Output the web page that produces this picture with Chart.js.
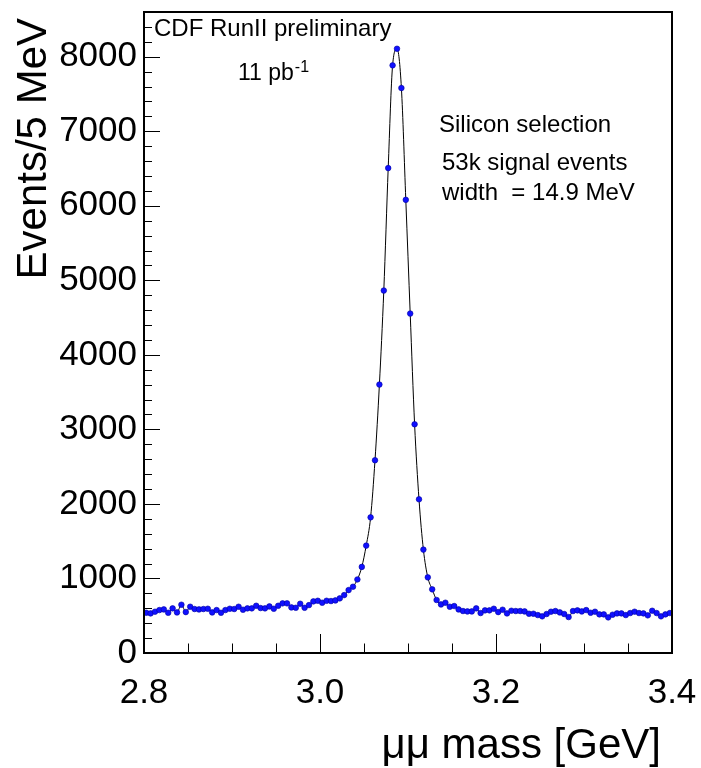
<!DOCTYPE html>
<html>
<head>
<meta charset="utf-8">
<script src="https://cdn.jsdelivr.net/npm/chart.js@4.4.1/dist/chart.umd.min.js"></script>
<style>
  html, body { margin: 0; padding: 0; background: #ffffff; }
  #wrap { width: 701px; height: 768px; }
</style>
</head>
<body>
<div id="wrap"><canvas id="c" width="701" height="768"></canvas></div>
<script>
// ---- data ----
const binStart = 2.8;          // GeV
const binWidth = 0.005;        // 5 MeV bins
const massBins = Array.from({ length: 120 }, (_, i) => +(binStart + binWidth * (i + 0.5)).toFixed(4));
const eventsPerBin = [
  540, 531, 554, 576, 585, 540, 599, 545, 648, 549,
  621, 590, 585, 590, 594, 545, 576, 540, 576, 594,
  590, 621, 581, 599, 599, 634, 603, 599, 625, 594,
  634, 666, 666, 612, 607, 661, 607, 643, 692, 701,
  675, 701, 697, 706, 733, 777, 844, 889, 987, 1155,
  1441, 1820, 2586, 3602, 4863, 6506, 7884, 8107, 7580, 6080,
  4554, 3069, 2062, 1387, 1015, 854, 711, 652, 675, 621,
  630, 585, 563, 558, 558, 599, 536, 572, 572, 594,
  549, 581, 531, 567, 563, 563, 558, 527, 527, 509,
  492, 523, 554, 563, 545, 523, 482, 563, 572, 558,
  576, 540, 554, 518, 518, 478, 514, 531, 531, 509,
  536, 554, 536, 531, 505, 567, 536, 492, 518, 536
];
const xTickValues = [2.8, 3.0, 3.2, 3.4];
const yTickValues = [0, 1000, 2000, 3000, 4000, 5000, 6000, 7000, 8000];
const xRange = [2.8, 3.4];
const yRange = [0, 8600];
const xTitle = 'μμ mass [GeV]';
const yTitle = 'Events/5 MeV';
const noteLines = ['Silicon selection', '53k signal events', 'width  = 14.9 MeV'];
const headerText = 'CDF RunII preliminary';
const lumiText = '11 pb';
const lumiSup = '-1';

const FONT = '"Liberation Sans", Arial, Helvetica, sans-serif';

const points = massBins.map((m, i) => ({ x: m, y: eventsPerBin[i] }));

const decorPlugin = {
  id: 'decor',
  afterDraw(chart) {
    const ctx = chart.ctx;
    const a = chart.chartArea;
    const xs = chart.scales.x, ys = chart.scales.y;
    ctx.save();
    ctx.strokeStyle = '#000';
    ctx.lineWidth = 1;
    // x ticks (inside, upward)
    ctx.beginPath();
    for (let v = xRange[0]; v <= xRange[1] + 1e-9; v += 0.05) {
      const px = Math.round(xs.getPixelForValue(v)) + 0.5;
      const isMajor = Math.abs(v * 5 - Math.round(v * 5)) < 1e-6;
      const len = isMajor ? 19 : 9.5;
      ctx.moveTo(px, a.bottom);
      ctx.lineTo(px, a.bottom - len);
    }
    // y ticks (inside, to the right)
    for (let v = 0; v <= yRange[1]; v += 200) {
      const py = Math.round(ys.getPixelForValue(v)) + 0.5;
      const isMajor = v % 1000 === 0;
      const len = isMajor ? 16 : 8;
      ctx.moveTo(a.left, py);
      ctx.lineTo(a.left + len, py);
    }
    ctx.stroke();
    // frame
    ctx.lineWidth = 2;
    ctx.strokeRect(a.left, a.top, a.right - a.left, a.bottom - a.top);

    // texts
    ctx.fillStyle = '#000';
    ctx.textBaseline = 'alphabetic';
    ctx.textAlign = 'left';
    ctx.font = '24px ' + FONT;
    ctx.fillText(headerText, 154, 36);
    ctx.font = '23px ' + FONT;
    ctx.fillText(lumiText, 238, 80);
    const w = ctx.measureText(lumiText).width;
    ctx.font = '16px ' + FONT;
    ctx.fillText(lumiSup, 238 + w + 1, 72);

    ctx.font = '24px ' + FONT;
    ctx.fillText(noteLines[0], 439, 132);
    ctx.fillText(noteLines[1], 442, 170);
    ctx.fillText(noteLines[2], 442, 200);

    // axis titles
    ctx.font = '42px ' + FONT;
    ctx.textAlign = 'right';
    ctx.fillText(xTitle, 661, 758);

    ctx.save();
    ctx.translate(46, 18);
    ctx.rotate(-Math.PI / 2);
    ctx.font = '42px ' + FONT;
    ctx.textAlign = 'right';
    ctx.fillText(yTitle, 0, 0);
    ctx.restore();

    ctx.restore();
  }
};

new Chart(document.getElementById('c'), {
  type: 'line',
  data: {
    datasets: [{
      data: points,
      borderColor: '#000000',
      borderWidth: 1,
      cubicInterpolationMode: 'monotone',
      pointRadius: 2.8,
      pointBackgroundColor: '#1010ff',
      pointBorderColor: '#0000a0',
      pointBorderWidth: 0.6,
      fill: false
    }]
  },
  options: {
    responsive: false,
    animation: false,
    devicePixelRatio: 1,
    layout: { padding: { top: 12, right: 29, left: 0, bottom: 0 } },
    plugins: { legend: { display: false }, tooltip: { enabled: false } },
    scales: {
      x: {
        type: 'linear',
        min: xRange[0], max: xRange[1],
        grid: { display: false, drawTicks: false },
        border: { display: false },
        afterBuildTicks: (s) => { s.ticks = xTickValues.map(v => ({ value: v })); },
        afterFit: (s) => { s.height = 768 - 653; s.paddingLeft = 0; s.paddingRight = 0; s.paddingTop = 0; s.paddingBottom = 0; },
        ticks: {
          padding: 19,
          color: '#000',
          font: { family: FONT, size: 35 },
          maxRotation: 0,
          callback: (v) => Number(v).toFixed(1)
        }
      },
      y: {
        type: 'linear',
        min: yRange[0], max: yRange[1],
        grid: { display: false, drawTicks: false },
        border: { display: false },
        afterBuildTicks: (s) => { s.ticks = yTickValues.map(v => ({ value: v })); },
        afterFit: (s) => { s.width = 144; s.paddingLeft = 0; s.paddingRight = 0; s.paddingTop = 0; s.paddingBottom = 0; },
        ticks: {
          padding: 7,
          color: '#000',
          font: { family: FONT, size: 35 },
          callback: (v) => String(v)
        }
      }
    }
  },
  plugins: [decorPlugin]
});
</script>
</body>
</html>
